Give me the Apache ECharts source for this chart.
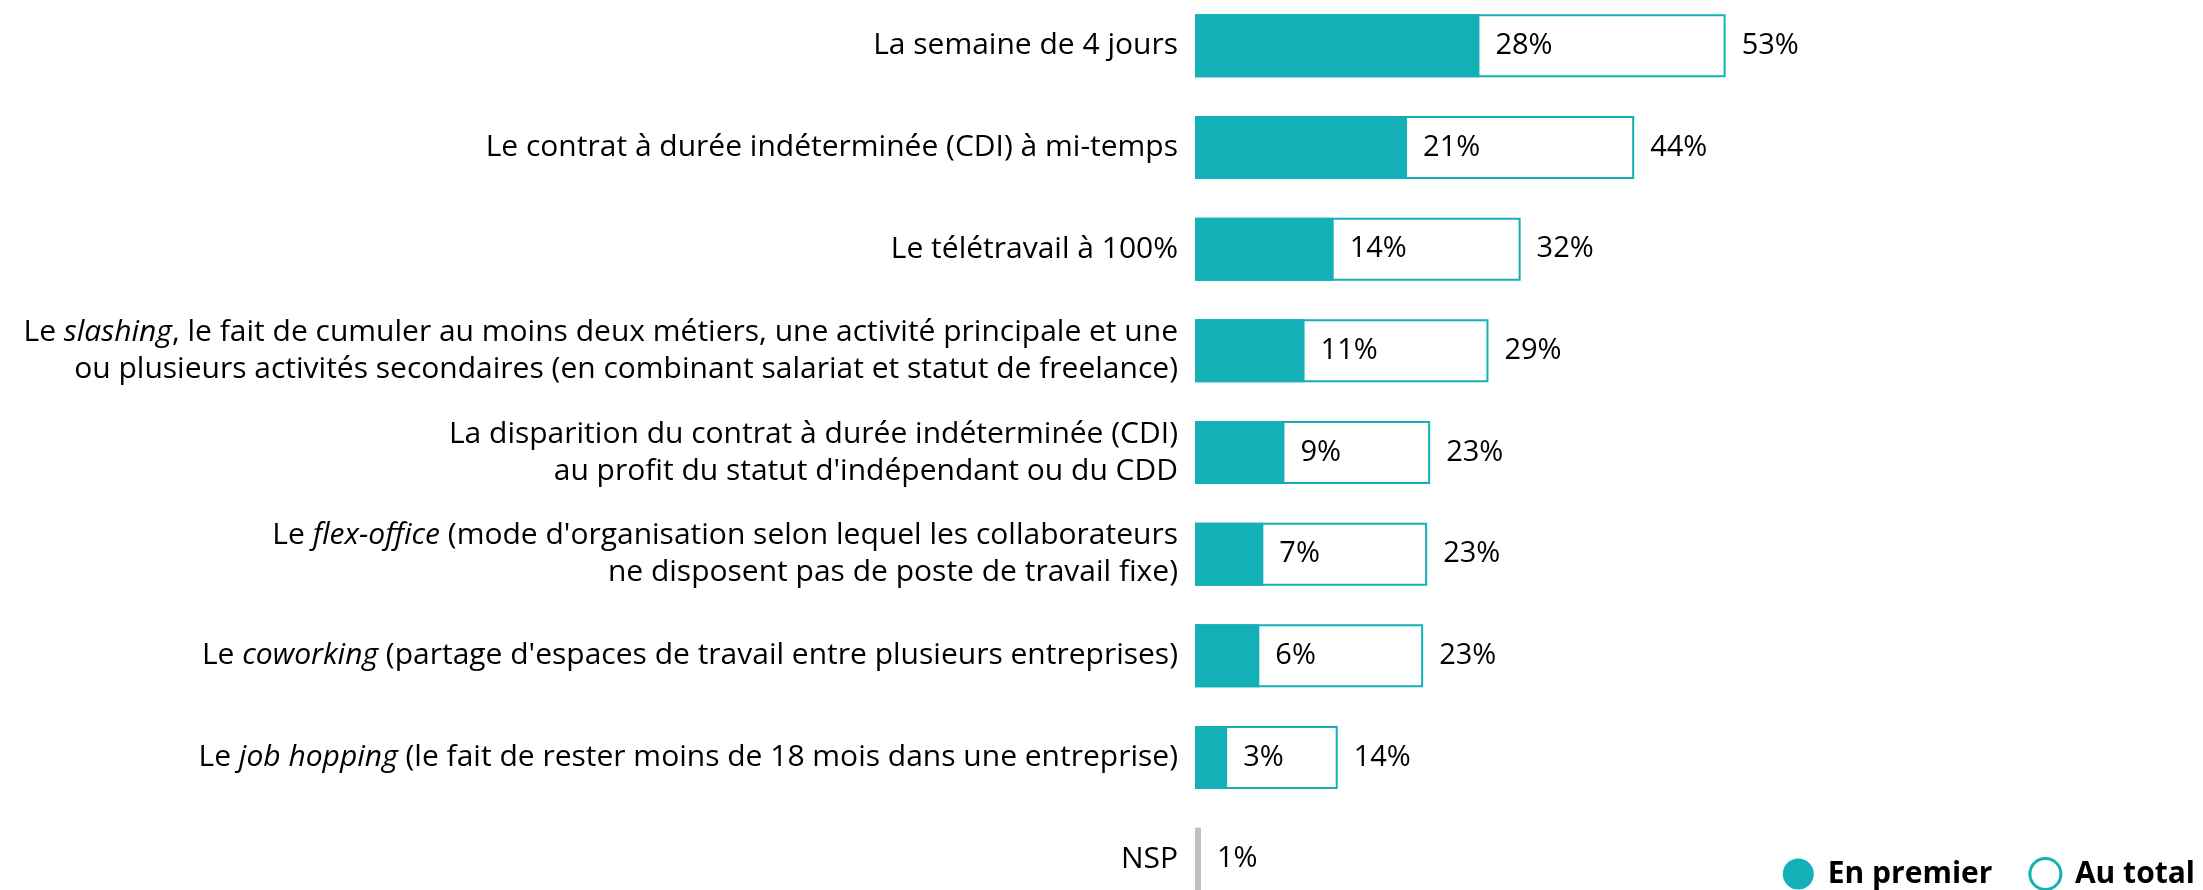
<!DOCTYPE html>
<html>
<head>
<meta charset="utf-8">
<script src="https://cdn.jsdelivr.net/npm/echarts@6/dist/echarts.min.js"></script>
<style>
  html, body { margin: 0; padding: 0; background: #fff; }
  #chart { width: 2203px; height: 890px; }
</style>
</head>
<body>
<div id="chart"></div>
<script>
var categories = [
  'La semaine de 4 jours',
  'Le contrat à durée indéterminée (CDI) à mi-temps',
  'Le télétravail à 100%',
  'Le slashing, le fait de cumuler au moins deux métiers, une activité principale et une\nou plusieurs activités secondaires (en combinant salariat et statut de freelance)',
  "La disparition du contrat à durée indéterminée (CDI)\nau profit du statut d'indépendant ou du CDD",
  "Le flex-office (mode d'organisation selon lequel les collaborateurs\nne disposent pas de poste de travail fixe)",
  "Le coworking (partage d'espaces de travail entre plusieurs entreprises)",
  'Le job hopping (le fait de rester moins de 18 mois dans une entreprise)',
  'NSP'
];
// words shown in italics inside the labels
var italicTerms = ['slashing', 'flex-office', 'coworking', 'job hopping'];

var enPremier = [28.3, 21.1, 13.8, 10.9, 8.9, 6.8, 6.4, 3.2, '-'];
var auTotal = [52.8, 43.7, 32.4, 29.2, 23.4, 23.1, 22.7, 14.2, '-'];
var nsp = ['-', '-', '-', '-', '-', '-', '-', '-', 0.6];

var teal = '#14b0b8';
var font = 'Open Sans';

function richLabel (text) {
  var out = [];
  text.split('\n').forEach(function (line) {
    var term = null;
    italicTerms.forEach(function (t) {
      if (line.indexOf(t) >= 0 && !term) term = t;
    });
    if (term) {
      var pos = line.indexOf(term);
      var a = line.slice(0, pos);
      var b = line.slice(pos + term.length);
      out.push((a ? '{n|' + a + '}' : '') + '{i|' + term + '}' + (b ? '{n|' + b + '}' : ''));
    } else {
      out.push('{n|' + line + '}');
    }
  });
  return out.join('\n');
}

function pct (p) {
  return Math.round(p.value) + '%';
}

function drawChart () {

  var chartDom = document.getElementById('chart');
  var myChart = echarts.init(chartDom);
  var option;

  var labelStyle = { fontSize: 29, fontFamily: font, color: '#000' };

  option = {
    animation: false,
    textStyle: { fontFamily: font },
    legend: {
      data: [
        { name: 'En premier' },
        { name: 'Au total', itemStyle: { borderWidth: 3 } }
      ],
      icon: 'circle',
      itemWidth: 31,
      itemHeight: 31,
      itemGap: 36,
      right: 3,
      top: 852,
      textStyle: { fontSize: 30, fontWeight: 'bold', color: '#000', fontFamily: font, padding: [0, 0, 0, 9] }
    },
    grid: {
      left: 1195,
      width: 1005,
      top: -5,
      height: 915,
      outerBoundsMode: 'none',
      containLabel: false
    },
    xAxis: {
      type: 'value',
      min: 0,
      max: 100,
      show: false
    },
    yAxis: {
      type: 'category',
      inverse: true,
      data: categories,
      axisLine: { show: false },
      axisTick: { show: false },
      splitLine: { show: false },
      axisLabel: {
        margin: 17,
        align: 'right',
        formatter: richLabel,
        rich: {
          n: { fontSize: 30, fontFamily: font, color: '#000', align: 'right', lineHeight: 37 },
          i: { fontSize: 30, fontFamily: font, color: '#000', align: 'right', lineHeight: 37, fontStyle: 'italic' }
        }
      }
    },
    series: [
      {
        name: 'Au total',
        type: 'bar',
        data: auTotal,
        barWidth: 63,
        barGap: '-100%',
        itemStyle: { color: '#fff', borderColor: teal, borderWidth: 2 },
        label: Object.assign({ show: true, position: 'right', distance: 16, formatter: pct }, labelStyle)
      },
      {
        name: 'En premier',
        type: 'bar',
        data: enPremier,
        barWidth: 63,
        barGap: '-100%',
        itemStyle: { color: teal },
        label: Object.assign({ show: true, position: 'right', distance: 16, formatter: pct }, labelStyle)
      },
      {
        name: 'NSP',
        type: 'bar',
        data: nsp,
        barWidth: 63,
        barGap: '-100%',
        itemStyle: { color: '#bfbfbf' },
        label: Object.assign({ show: true, position: 'right', distance: 16, formatter: pct }, labelStyle)
      }
    ]
  };

  option && myChart.setOption(option);

}

drawChart()
</script>
</body>
</html>
